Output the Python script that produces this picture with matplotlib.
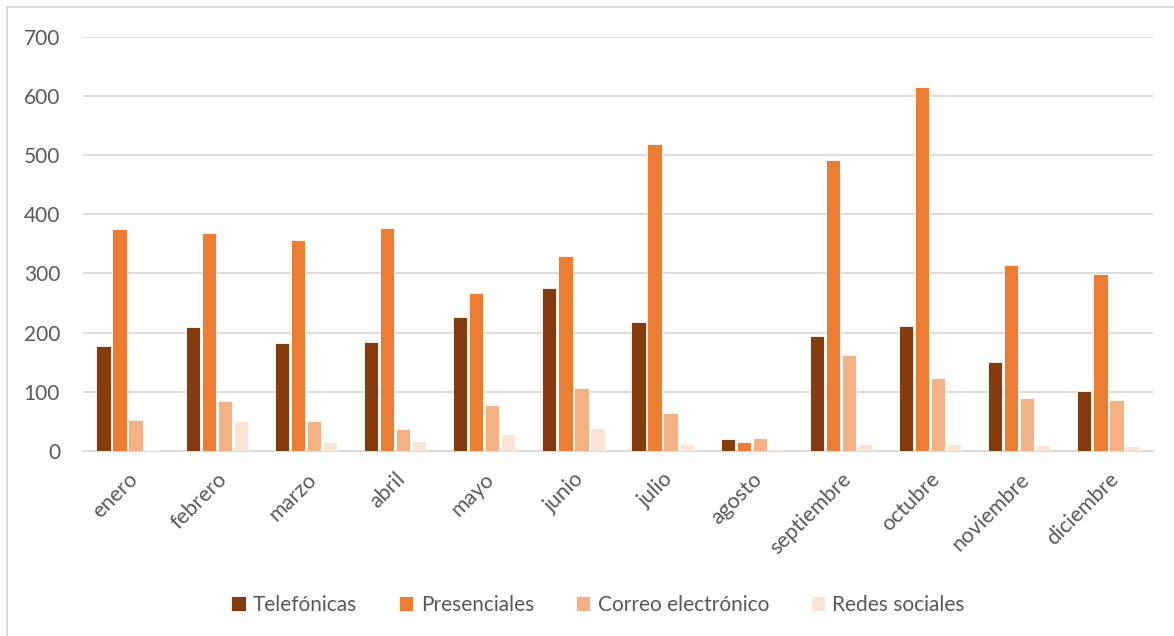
import matplotlib
matplotlib.use("Agg")
import matplotlib.pyplot as plt
from matplotlib.patches import Rectangle
import numpy as np

plt.rcParams['font.family'] = ['Lato', 'DejaVu Sans']

meses = ["enero", "febrero", "marzo", "abril", "mayo", "junio", "julio",
         "agosto", "septiembre", "octubre", "noviembre", "diciembre"]
telefonicas = [177, 210, 182, 185, 226, 276, 218, 20, 195, 212, 150, 101]
presenciales = [375, 369, 356, 377, 267, 330, 519, 15, 492, 615, 315, 299]
correo = [53, 84, 50, 37, 78, 106, 64, 22, 163, 123, 89, 87]
redes = [1, 51, 15, 17, 29, 39, 11, 3, 12, 12, 10, 8]

series = [
    ("Telefónicas", telefonicas, "#843C0C"),
    ("Presenciales", presenciales, "#ED7D31"),
    ("Correo electrónico", correo, "#F4B183"),
    ("Redes sociales", redes, "#FBE5D6"),
]
yticks = [0, 100, 200, 300, 400, 500, 600, 700]

W, H = 1174, 636
fig = plt.figure(figsize=(W / 100, H / 100), dpi=100)
ax = fig.add_axes([83 / W, 1 - 451 / H, (1153 - 83) / W, (451 - 36.7) / H])

x = np.arange(len(meses))
step = 0.18
width = 0.16
for i, (name, vals, col) in enumerate(series):
    ax.bar(x + (i - 1.5) * step, vals, width, color=col, label=name,
           edgecolor="white", linewidth=0.6, zorder=3)

ax.set_xlim(-0.5, len(meses) - 0.5)
ax.set_ylim(0, 700)
ax.set_yticks(yticks)
ax.set_yticklabels([str(v) for v in yticks])
ax.grid(axis="y", color="#D9D9D9", linewidth=1.3, zorder=0)
for s in ["top", "right", "left"]:
    ax.spines[s].set_visible(False)
ax.spines["bottom"].set_color("#D9D9D9")
ax.spines["bottom"].set_linewidth(1.3)
ax.tick_params(axis="y", length=0, pad=16.5, labelsize=15, labelcolor="#595959")
ax.tick_params(axis="x", length=0, pad=13, labelsize=15.5, labelcolor="#595959")
ax.set_xticks(x)
ax.set_xticklabels(meses, rotation=45, ha="right", rotation_mode="anchor")

handles, labels = ax.get_legend_handles_labels()
leg = fig.legend(handles, labels, loc="center", bbox_to_anchor=(598 / W, 1 - 605 / H),
                 ncol=4, frameon=False, fontsize=15, handlelength=0.7,
                 handleheight=0.7, handletextpad=0.35, columnspacing=2.0)
for t in leg.get_texts():
    t.set_color("#595959")

# outer chart frame
fig.patches.append(Rectangle((6.5 / W, -0.05), 1.2, 1 - 7.5 / H + 0.05,
                             transform=fig.transFigure, fill=False,
                             edgecolor="#D9D9D9", linewidth=1.3))

fig.savefig("out.png", dpi=100)
